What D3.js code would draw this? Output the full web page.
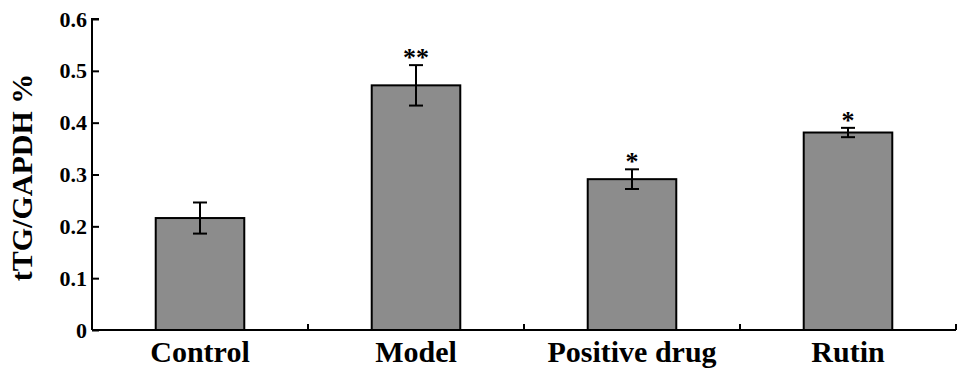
<!DOCTYPE html>
<html>
<head>
<meta charset="utf-8">
<script src="https://cdn.jsdelivr.net/npm/d3@7"></script>
<style>
  body { margin: 0; background: #fff; }
</style>
</head>
<body>
<div id="chart"></div>
<script>
const groups = ["Control", "Model", "Positive drug", "Rutin"];
const means = [0.216, 0.472, 0.291, 0.381];
const errors = [0.030, 0.039, 0.019, 0.009];
const marks = ["", "**", "*", "*"];
const yTicks = [0, 0.1, 0.2, 0.3, 0.4, 0.5, 0.6];

const width = 969, height = 377;
const margin = { top: 19, right: 13, bottom: 47, left: 92 };
const serif = "'Times New Roman', 'Liberation Serif', 'DejaVu Serif', serif";

const svg = d3.select("#chart").append("svg")
  .attr("width", width).attr("height", height)
  .attr("font-family", serif)
  .attr("font-weight", "bold");

const x = d3.scaleBand()
  .domain(groups)
  .range([margin.left, width - margin.right])
  .paddingInner(0.59).paddingOuter(0.295);

const y = d3.scaleLinear()
  .domain([0, 0.6])
  .range([height - margin.bottom, margin.top]);

// bars
svg.append("g").selectAll("rect")
  .data(groups)
  .join("rect")
  .attr("x", d => x(d))
  .attr("y", (d, i) => y(means[i]))
  .attr("width", x.bandwidth())
  .attr("height", (d, i) => y(0) - y(means[i]))
  .attr("fill", "#8c8c8c")
  .attr("stroke", "#000")
  .attr("stroke-width", 2);

// error bars
const err = svg.append("g").attr("stroke", "#000").attr("stroke-width", 2);
groups.forEach((g, i) => {
  const cx = x(g) + x.bandwidth() / 2;
  const hi = y(means[i] + errors[i]), lo = y(means[i] - errors[i]);
  err.append("line").attr("x1", cx).attr("x2", cx).attr("y1", hi).attr("y2", lo);
  err.append("line").attr("x1", cx - 7).attr("x2", cx + 7).attr("y1", hi).attr("y2", hi);
  err.append("line").attr("x1", cx - 7).attr("x2", cx + 7).attr("y1", lo).attr("y2", lo);
});

// significance marks
svg.append("g").selectAll("text")
  .data(groups)
  .join("text")
  .attr("x", d => x(d) + x.bandwidth() / 2)
  .attr("y", (d, i) => y(means[i] + errors[i]) + 1)
  .attr("text-anchor", "middle")
  .attr("font-size", 26)
  .text((d, i) => marks[i]);

// y axis
const yAxis = svg.append("g")
  .attr("transform", `translate(${margin.left},0)`)
  .call(d3.axisLeft(y).tickValues(yTicks).tickSize(-7).tickPadding(5)
    .tickFormat(d => d === 0 ? "0" : d3.format(".1f")(d)));
yAxis.attr("font-family", serif).attr("font-size", 22);
yAxis.select(".domain").attr("d", `M7,${y(0.6)}H0V${y(0)}`).attr("stroke-width", 2);
yAxis.selectAll(".tick line").attr("stroke-width", 2);
yAxis.selectAll("text").attr("fill", "#000");

// x axis with ticks between groups
const step = x.step();
const xBounds = groups.map((g, i) => margin.left + step * (i + 1));
const xAxis = svg.append("g").attr("stroke", "#000").attr("stroke-width", 2);
xAxis.append("line")
  .attr("x1", margin.left).attr("x2", width - margin.right)
  .attr("y1", y(0)).attr("y2", y(0));
xAxis.selectAll("line.sep")
  .data(xBounds)
  .join("line")
  .attr("class", "sep")
  .attr("x1", d => d).attr("x2", d => d)
  .attr("y1", y(0)).attr("y2", y(0) - 6);

svg.append("g").selectAll("text")
  .data(groups)
  .join("text")
  .attr("x", d => x(d) + x.bandwidth() / 2)
  .attr("y", 362)
  .attr("text-anchor", "middle")
  .attr("font-size", 30)
  .text(d => d);

// y title
svg.append("text")
  .attr("transform", `translate(32,${(y(0) + y(0.6)) / 2 + 3}) rotate(-90)`)
  .attr("text-anchor", "middle")
  .attr("font-size", 30)
  .text("tTG/GAPDH %");
</script>
</body>
</html>
